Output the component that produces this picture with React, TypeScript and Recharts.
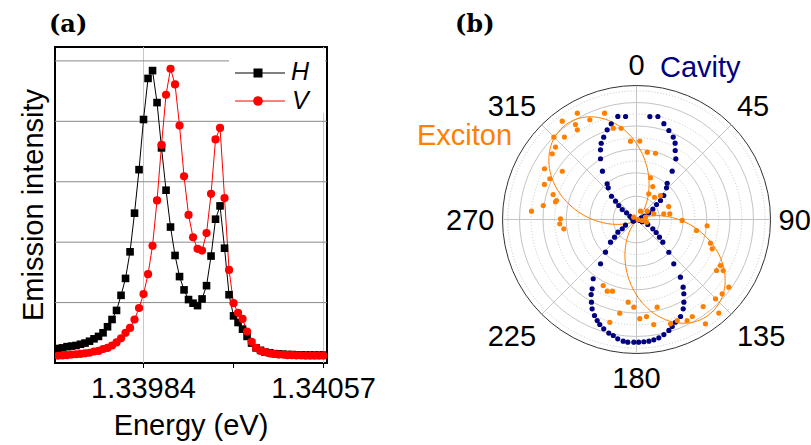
import React from 'react';
import {
  ComposedChart,
  Line,
  XAxis,
  YAxis,
  ReferenceLine,
  ReferenceArea,
  Scatter,
  RadarChart,
  PolarGrid,
  PolarAngleAxis,
} from 'recharts';

const FONT = '"Liberation Sans", Arial, Helvetica, sans-serif';

// ---------- panel (a): emission spectra ----------
const energy = [
  1.3394933, 1.3395115, 1.3395298, 1.339548, 1.3395663, 1.3395845, 1.3396028, 1.339621, 1.3396393, 1.3396575,
  1.3396758, 1.339694, 1.3397123, 1.3397305, 1.3397488, 1.339767, 1.3397853, 1.3398035, 1.3398218, 1.33984,
  1.3398583, 1.3398765, 1.3398948, 1.339913, 1.3399313, 1.3399495, 1.3399678, 1.339986, 1.3400043, 1.3400225,
  1.3400408, 1.340059, 1.3400773, 1.3400955, 1.3401138, 1.340132, 1.3401503, 1.3401685, 1.3401868, 1.340205,
  1.3402233, 1.3402415, 1.3402598, 1.340278, 1.3402963, 1.3403145, 1.3403328, 1.340351, 1.3403693, 1.3403875,
  1.3404058, 1.340424, 1.3404423, 1.3404605, 1.3404788, 1.340497, 1.3405153, 1.3405335, 1.3405518, 1.34057,
];
const hIntensity = [
  0.24, 0.25, 0.27, 0.28, 0.29, 0.31, 0.33, 0.36, 0.4, 0.44,
  0.5, 0.6, 0.72, 0.87, 1.12, 1.4, 1.84, 2.48, 3.2, 4.03,
  4.71, 4.84, 4.31, 3.56, 2.86, 2.25, 1.78, 1.43, 1.21, 1.05,
  0.99, 0.95, 1.06, 1.28, 1.77, 2.38, 2.6, 1.9, 1.13, 0.78,
  0.67, 0.56, 0.44, 0.33, 0.25, 0.21, 0.18, 0.17, 0.155, 0.15,
  0.145, 0.14, 0.14, 0.135, 0.135, 0.13, 0.13, 0.13, 0.13, 0.13,
];
const vIntensity = [
  0.12, 0.125, 0.13, 0.14, 0.145, 0.15, 0.16, 0.17, 0.19, 0.2,
  0.23, 0.25, 0.29, 0.34, 0.41, 0.5, 0.58, 0.72, 0.91, 1.14,
  1.47, 1.94, 2.69, 3.61, 4.44, 4.87, 4.61, 3.93, 3.09, 2.45,
  2.08, 1.89, 1.86, 2.15, 2.8, 3.7, 3.89, 2.73, 1.54, 0.99,
  0.83, 0.73, 0.52, 0.35, 0.25, 0.2, 0.18, 0.16, 0.15, 0.14,
  0.14, 0.13, 0.13, 0.125, 0.125, 0.12, 0.12, 0.12, 0.12, 0.12,
];
const energyTicks = [1.33984, 1.340205, 1.34057];
const energyLabelTicks = [1.33984, 1.34057];
const energyDomain = [1.339481, 1.340584];
const intensityTicks = [0, 0.5, 1, 1.5, 2, 2.5, 3, 3.5, 4, 4.5, 5];
const intensityGrid = [1, 2, 3, 4, 5];
const intensityDomain = [0, 5.23];

// ---------- panel (b): polarisation ----------
const angleLabels = ['0', '45', '90', '135', '180', '225', '270', '315'];
const ringSolid = [0.174, 0.349, 0.524, 0.698, 0.873];
const ringDotted = [0.087, 0.262, 0.436, 0.611, 0.786, 0.96];

const cavityAngle = [
  7.1, 11.4, 15.6, 19.6, 23.6, 26.4, 28.8, 32.4, 35.8, 39.4, 42.5, 47.6, 50.3, 51.5, 55.6, 58.6, 63.1, 64,
  70, 80, 90, 100, 108,
  112.6, 119.1, 123.1, 127.4, 130.7, 135.4, 140, 142.8, 145.5, 147.6, 150.3, 152.5, 155.7, 159.4, 161.7, 163.9, 166.8, 169.5, 172, 174.4, 176.8, 179.2,
  181.5, 184.3, 186.5, 189.2, 191.6, 194, 197, 199.6, 201.6, 204, 206.8, 209, 211.6, 213.1, 216.7, 219.8, 224.4, 230, 232.6, 237.6, 239.3, 245.7,
  252, 262, 272, 282, 290,
  297.6, 297.8, 304.4, 305.3, 308.5, 311.2, 313, 318.2, 320.5, 324.7, 329.2, 332.5, 335, 338.1, 341.7, 345, 349.5, 353.7,
];
const cavityR = [
  0.778, 0.788, 0.746, 0.709, 0.675, 0.64, 0.592, 0.541, 0.449, 0.355, 0.326, 0.271, 0.228, 0.186, 0.143, 0.103, 0.063, 0.037,
  0.03, 0.02, 0.02, 0.02, 0.04,
  0.087, 0.135, 0.171, 0.211, 0.254, 0.338, 0.427, 0.536, 0.608, 0.652, 0.706, 0.747, 0.79, 0.815, 0.837, 0.858, 0.878, 0.894, 0.903, 0.909, 0.91, 0.912,
  0.912, 0.914, 0.91, 0.898, 0.88, 0.87, 0.849, 0.828, 0.807, 0.78, 0.743, 0.701, 0.653, 0.613, 0.547, 0.425, 0.336, 0.258, 0.211, 0.169, 0.128, 0.094,
  0.03, 0.02, 0.02, 0.03, 0.04,
  0.035, 0.06, 0.095, 0.135, 0.174, 0.213, 0.26, 0.322, 0.35, 0.446, 0.532, 0.59, 0.632, 0.666, 0.709, 0.743, 0.786, 0.777,
];

const excitonAngle = [
  2, 8.6, 15.5, 17.7, 21.7, 24.2, 25.3, 37.5, 43.8, 49.2, 67, 69.7, 71.8, 75, 77, 79.3, 90.6, 94.7, 95.5, 100,
  103, 107.5, 111, 118.6, 120.4, 122.4, 126.2, 130.9, 135.1, 138.7, 142.6, 146.6, 150.2, 153.5, 158.2, 162.1, 167, 170.9, 174.4, 178.4,
  182.1, 186.1, 190.5, 194.9, 199, 202.7, 207.3, 263.1, 267.2, 270.9, 274.8, 278.8, 282.6, 283.6, 286.9, 291, 295.3, 299, 303.1, 308,
  311, 311.8, 314.9, 318.8, 322.9, 326.5, 327.2, 330.8, 334.8, 343.1, 345.5, 350.2, 355.3,
];
const excitonR = [
  0.589, 0.512, 0.517, 0.331, 0.071, 0.214, 0.276, 0.214, 0.253, 0.101, 0.257, 0.134, 0.067, 0.008, 0.205, 0.249, 0.337, 0.525, 0.039, 0.451,
  0.073, 0.575, 0.601, 0.71, 0.746, 0.703, 0.849, 0.841, 0.83, 0.925, 0.813, 0.928, 0.83, 0.838, 0.808, 0.814, 0.668, 0.79, 0.724, 0.737,
  0.651, 0.617, 0.707, 0.79, 0.562, 0.576, 0.55, 0.55, 0.577, 0.571, 0.79, 0.708, 0.623, 0.618, 0.654, 0.74, 0.72, 0.789, 0.666, 0.803,
  0.032, 0.816, 0.876, 0.822, 0.925, 0.807, 0.848, 0.913, 0.827, 0.833, 0.708, 0.695, 0.59,
];

const fitAngle = [
  5, 11, 17, 23, 29, 35, 41, 47, 53, 59, 65, 71, 77, 83, 89, 95, 101, 107, 113, 119,
  125, 131, 137, 143, 149, 155, 161, 167, 173, 179, 185, 191, 197, 203, 209, 215, 221, 227, 233, 239,
  245, 251, 257, 263, 269, 275, 281, 287, 293, 299, 305, 311, 317, 323, 329, 335, 341, 347, 353, 359, 365,
];
const fitR = [
  0.49, 0.398, 0.307, 0.222, 0.147, 0.085, 0.038, 0.01, 0, 0.01, 0.038, 0.085, 0.147, 0.222, 0.307, 0.398, 0.49, 0.581, 0.666, 0.741,
  0.803, 0.85, 0.878, 0.888, 0.878, 0.85, 0.803, 0.741, 0.666, 0.581, 0.49, 0.398, 0.307, 0.222, 0.147, 0.085, 0.038, 0.01, 0, 0.01,
  0.038, 0.085, 0.147, 0.222, 0.307, 0.398, 0.49, 0.581, 0.666, 0.741, 0.803, 0.85, 0.878, 0.888, 0.878, 0.85, 0.803, 0.741, 0.666, 0.581, 0.49,
];

// ---------- derived tables ----------
const spectrum = energy.map((e, i) => ({ e, h: hIntensity[i], v: vIntensity[i] }));
const toXY = (deg: number, r: number) => {
  const t = (deg * Math.PI) / 180;
  return { x: r * Math.sin(t), y: r * Math.cos(t) };
};
const cavityPts = cavityAngle.map((a, i) => toXY(a, cavityR[i]));
const excitonPts = excitonAngle.map((a, i) => toXY(a, excitonR[i]));
const fitPts = fitAngle.map((a, i) => toXY(a, fitR[i]));
const angleData = angleLabels.map((a) => ({ angle: a }));

const NAVY = '#000080';
const ORANGE = '#ff8000';
const POLAR_R = 134;

const SquareDot = (p: any) => {
  if (p.cx == null || p.cy == null) return <g key={p.index} />;
  return <rect key={p.index} x={p.cx - 3.8} y={p.cy - 3.8} width={7.6} height={7.6} fill="#000" />;
};
const CircleDot = (p: any) => {
  if (p.cx == null || p.cy == null) return <g key={p.index} />;
  return <circle key={p.index} cx={p.cx} cy={p.cy} r={4.1} fill="#ff0000" />;
};
const navyShape = (p: any) => <circle cx={p.cx} cy={p.cy} r={2.6} fill={NAVY} />;
const orangeShape = (p: any) => <circle cx={p.cx} cy={p.cy} r={2.6} fill={ORANGE} />;

const AngleTick = (props: any) => {
  const { x, y, payload } = props;
  const t = (Number(payload.value) * Math.PI) / 180;
  const right = Math.sin(t);
  const up = Math.cos(t);
  const anchor = right > 0.1 ? 'start' : right < -0.1 ? 'end' : 'middle';
  const dy = up > 0.1 ? -13 : up < -0.1 ? 16 : 0;
  return (
    <text x={x} y={y + dy} textAnchor={anchor} dominantBaseline="central" fontSize={29} fontFamily={FONT} fill="#000">
      {payload.value}
    </text>
  );
};

export default function App() {
  return (
    <div style={{ position: 'absolute', left: 0, top: 0, width: 811, height: 445, background: '#fff', overflow: 'hidden' }}>
      {/* panel (a) */}
      <div style={{ position: 'absolute', left: 0, top: 0 }}>
        <ComposedChart width={400} height={445} data={spectrum} margin={{ top: 47, right: 73, bottom: 0, left: 11 }}>
          <XAxis
            dataKey="e"
            type="number"
            domain={energyDomain}
            ticks={energyTicks}
            allowDataOverflow
            interval={0}
            tickFormatter={(v: number) => (energyLabelTicks.includes(v) ? v.toFixed(5) : '')}
            axisLine={false}
            tickLine={{ stroke: '#000' }}
            tickSize={5}
            tickMargin={9}
            tick={{ fill: '#000', fontSize: 29, fontFamily: FONT }}
            height={82}
            label={{ value: 'Energy (eV)', position: 'insideBottom', offset: 10, fontSize: 29, fill: '#000', fontFamily: FONT }}
          />
          <YAxis
            type="number"
            domain={intensityDomain}
            ticks={intensityTicks}
            interval={0}
            allowDataOverflow
            tick={false}
            tickSize={5}
            axisLine={false}
            tickLine={{ stroke: '#000' }}
            width={44}
            label={{ value: 'Emission intensity', angle: -90, position: 'center', fontSize: 29, fill: '#000', fontFamily: FONT }}
          />
          {energyLabelTicks.map((e) => (
            <ReferenceLine key={'vx' + e} x={e} stroke="#c8c8c8" strokeWidth={1} />
          ))}
          {intensityGrid.map((v) => (
            <ReferenceLine key={'hy' + v} y={v} stroke="#8a8a8a" strokeWidth={1} />
          ))}
          <Line dataKey="h" type="linear" stroke="#000" strokeWidth={1} dot={SquareDot} activeDot={false} isAnimationActive={false} />
          <Line dataKey="v" type="linear" stroke="#ff0000" strokeWidth={1} dot={CircleDot} activeDot={false} isAnimationActive={false} />
          <ReferenceArea
            x1={energyDomain[0]}
            x2={energyDomain[1]}
            y1={intensityDomain[0]}
            y2={intensityDomain[1]}
            fill="none"
            fillOpacity={0}
            stroke="#000"
            strokeWidth={2}
            ifOverflow="visible"
          />
        </ComposedChart>
      </div>

      {/* panel (b) grid and angle labels */}
      <div style={{ position: 'absolute', left: 436, top: 0 }}>
        <RadarChart
          width={375}
          height={445}
          cx={200.5}
          cy={219.5}
          outerRadius={POLAR_R}
          data={angleData}
          startAngle={90}
          endAngle={-270}
          margin={{ top: 0, right: 0, bottom: 0, left: 0 }}
        >
          <PolarGrid gridType="circle" polarRadius={ringDotted.map((v) => v * POLAR_R)} radialLines={false} stroke="#c4c4c4" strokeDasharray="1 2" />
          <PolarGrid gridType="circle" polarRadius={ringSolid.map((v) => v * POLAR_R)} stroke="#c4c4c4" />
          <PolarGrid gridType="circle" polarRadius={[POLAR_R]} radialLines={false} stroke="#333" />
          <PolarAngleAxis dataKey="angle" tick={AngleTick} tickLine={false} axisLine={false} />
        </RadarChart>
      </div>

      {/* panel (b) data */}
      <div style={{ position: 'absolute', left: 636.5 - POLAR_R, top: 219.5 - POLAR_R }}>
        <ComposedChart width={POLAR_R * 2} height={POLAR_R * 2} margin={{ top: 0, right: 0, bottom: 0, left: 0 }}>
          <XAxis type="number" dataKey="x" domain={[-1, 1]} hide allowDataOverflow />
          <YAxis type="number" dataKey="y" domain={[-1, 1]} hide allowDataOverflow />
          <Scatter data={cavityPts} dataKey="y" shape={navyShape} isAnimationActive={false} />
          <Line data={fitPts} dataKey="y" type="natural" stroke={ORANGE} strokeWidth={1} dot={false} activeDot={false} isAnimationActive={false} />
          <Scatter data={excitonPts} dataKey="y" shape={orangeShape} isAnimationActive={false} />
        </ComposedChart>
      </div>

      {/* annotations and legend */}
      <svg width={811} height={445} style={{ position: 'absolute', left: 0, top: 0, pointerEvents: 'none' }}>
        <text x={49} y={32} fontFamily='"DejaVu Serif", serif' fontWeight="bold" fontSize={24} fill="#000">(a)</text>
        <text x={455} y={32} fontFamily='"DejaVu Serif", serif' fontWeight="bold" fontSize={24} fill="#000">(b)</text>
        <text x={660} y={77} fontFamily={FONT} fontSize={29} fill={NAVY}>Cavity</text>
        <text x={417} y={145} fontFamily={FONT} fontSize={29} fill={ORANGE}>Exciton</text>
        <rect x={229} y={49} width={96} height={64} fill="#fff" />
        <line x1={235} x2={285} y1={73} y2={73} stroke="#000" strokeWidth={1} />
        <rect x={253.5} y={68.5} width={9} height={9} fill="#000" />
        <text x={291} y={80} fontFamily={FONT} fontStyle="italic" fontSize={25} fill="#000">H</text>
        <line x1={235} x2={285} y1={101} y2={101} stroke="#ff0000" strokeWidth={1} />
        <circle cx={258} cy={101} r={4.8} fill="#ff0000" />
        <text x={292} y={109} fontFamily={FONT} fontStyle="italic" fontSize={25} fill="#000">V</text>
      </svg>
    </div>
  );
}
